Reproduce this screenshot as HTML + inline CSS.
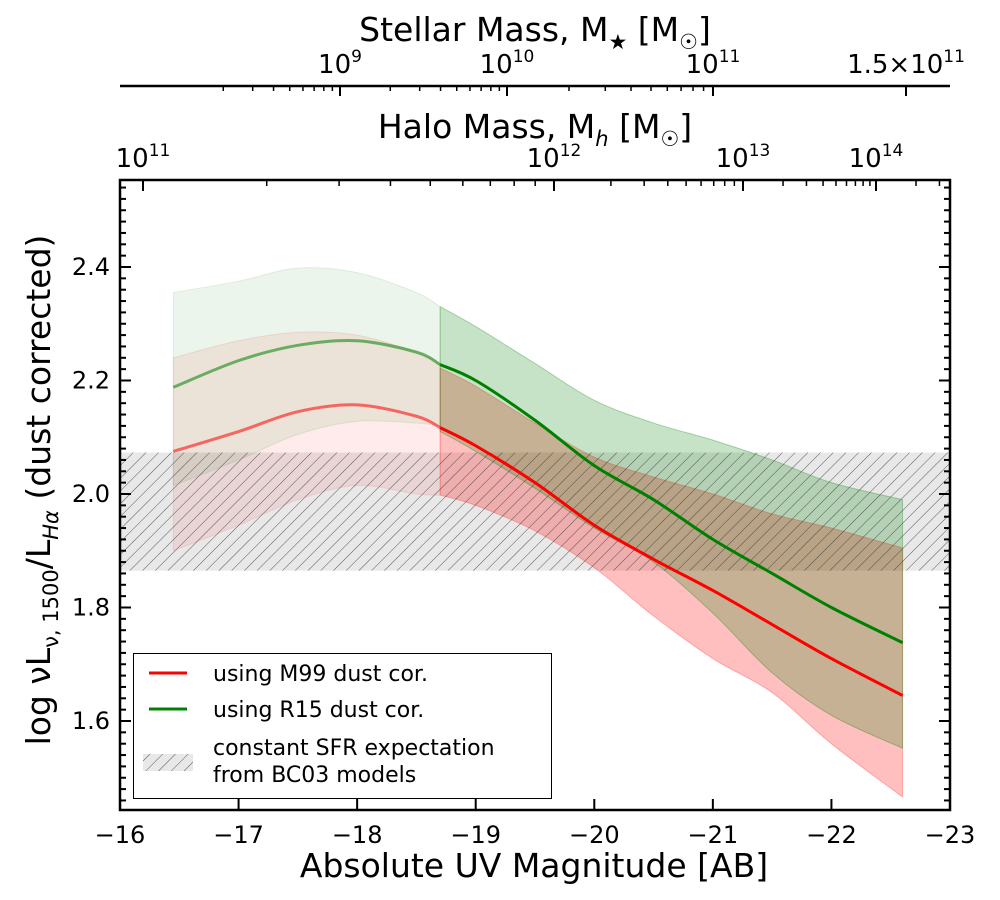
<!DOCTYPE html>
<html><head><meta charset="utf-8"><style>
body{margin:0;background:#fff}
svg{display:block;font-family:"DejaVu Sans","Liberation Sans",sans-serif}
</style></head><body>
<svg id="chart" width="1000" height="900" xmlns="http://www.w3.org/2000/svg">
<defs>
<pattern id="hatch" patternUnits="userSpaceOnUse" width="9" height="9" patternTransform="rotate(45)">
<line x1="0" y1="0" x2="0" y2="9" stroke="#333" stroke-width="1" stroke-opacity="0.8"/>
</pattern>
<clipPath id="clip"><rect x="120" y="180" width="830" height="630"/></clipPath>
</defs>
<g id="plot" clip-path="url(#clip)"></g>
<g id="axes"></g>
</svg>
<script>
// data
const magL = [-16.45,-17,-17.5,-18,-18.5,-18.7];
const magR = [-18.7,-19,-19.5,-20,-20.5,-21,-21.5,-22,-22.6];
const greenUpL = [2.355,2.375,2.398,2.39,2.355,2.33];
const greenLoL = [2.015,2.06,2.105,2.128,2.125,2.12];
const redUpL = [2.24,2.27,2.285,2.28,2.25,2.23];
const redLoL = [1.90,1.945,1.99,2.015,2.0,1.998];
const greenUpR = [2.33,2.295,2.23,2.165,2.125,2.095,2.06,2.02,1.99];
const greenLoR = [2.11,2.075,2.01,1.94,1.88,1.79,1.685,1.61,1.552];
const redUpR = [2.222,2.19,2.125,2.065,2.03,2.0,1.965,1.94,1.905];
const redLoR = [1.998,1.98,1.935,1.87,1.785,1.71,1.65,1.56,1.466];
const magLine = [-16.45,-17,-17.5,-18,-18.5,-18.7,-19,-19.5,-20,-20.5,-21,-21.5,-22,-22.6];
const greenLine = [2.188,2.235,2.262,2.27,2.25,2.228,2.2,2.13,2.05,1.99,1.92,1.86,1.80,1.738];
const redLine = [2.075,2.11,2.145,2.157,2.137,2.117,2.085,2.02,1.945,1.885,1.83,1.77,1.71,1.645];
const bc03 = [1.865,2.073];
const xTicks = [-16,-17,-18,-19,-20,-21,-22,-23];
const yTicks = [1.6,1.8,2.0,2.2,2.4];
const haloLabels = ["11","12","13","14"];
const stellarLabels = ["10","10","10","1.5×10"];

const X = m => 120 + (-16 - m) * (830/7);
const Y = v => 494 - (v - 2.0) * 567.5;
const NS = "http://www.w3.org/2000/svg";
const plot = document.getElementById('plot');
const axes = document.getElementById('axes');
function mk(tag, attrs, parent){const e=document.createElementNS(NS,tag);for(const k in attrs)e.setAttribute(k,attrs[k]);parent.appendChild(e);return e;}
function smooth(xs,ys){
  const p=xs.map((x,i)=>[X(x),Y(ys[i])]);let d=`M${p[0][0]},${p[0][1]}`;
  for(let i=0;i<p.length-1;i++){const p0=p[i-1]||p[i],p1=p[i],p2=p[i+1],p3=p[i+2]||p2;
    d+=` C${p1[0]+(p2[0]-p0[0])/6},${p1[1]+(p2[1]-p0[1])/6} ${p2[0]-(p3[0]-p1[0])/6},${p2[1]-(p3[1]-p1[1])/6} ${p2[0]},${p2[1]}`;}
  return d;}
function band(xs,up,lo){const d1=smooth(xs,up);const d2=smooth(xs.slice().reverse(),lo.slice().reverse());return d1+" L"+d2.slice(1)+" Z";}

let e;
e=mk('rect',{x:120,y:Y(bc03[1]),width:830,height:Y(bc03[0])-Y(bc03[1]),fill:'#e8e8e8'},plot);

e=mk('path',{d:band(magL,redUpL,redLoL),fill:'red','fill-opacity':0.08,stroke:'red','stroke-opacity':0.1},plot);

e=mk('path',{d:band(magL,greenUpL,greenLoL),fill:'green','fill-opacity':0.08,stroke:'green','stroke-opacity':0.1},plot);

e=mk('path',{d:band(magR,redUpR,redLoR),fill:'red','fill-opacity':0.25,stroke:'red','stroke-opacity':0.25},plot);

e=mk('path',{d:band(magR,greenUpR,greenLoR),fill:'green','fill-opacity':0.22,stroke:'green','stroke-opacity':0.3},plot);

e=mk('rect',{x:120,y:Y(bc03[1]),width:830,height:Y(bc03[0])-Y(bc03[1]),fill:'url(#hatch)'},plot);

const iSplit = magLine.indexOf(-18.7);
e=mk('path',{d:smooth(magLine.slice(0,iSplit+1),greenLine.slice(0,iSplit+1)),fill:'none',stroke:'green','stroke-opacity':0.55,'stroke-width':3},plot);

e=mk('path',{d:smooth(magLine.slice(iSplit),greenLine.slice(iSplit)),fill:'none',stroke:'green','stroke-width':3},plot);

e=mk('path',{d:smooth(magLine.slice(0,iSplit+1),redLine.slice(0,iSplit+1)),fill:'none',stroke:'red','stroke-opacity':0.55,'stroke-width':3},plot);

e=mk('path',{d:smooth(magLine.slice(iSplit),redLine.slice(iSplit)),fill:'none',stroke:'red','stroke-width':3},plot);


// frame
e=mk('rect',{x:120,y:180,width:830,height:630,fill:'none',stroke:'#000','stroke-width':2.5},axes);

xTicks.forEach(t=>{const x=X(t);
  mk('line',{x1:x,x2:x,y1:810,y2:799,stroke:'#000','stroke-width':2},axes);
  e=mk('text',{x:x,y:843,'text-anchor':'middle','font-size':24},axes);e.textContent=(t<0?'−':'')+Math.abs(t);
  });
for(let v=1.46;v<2.56;v+=0.02){const y=Y(v);const maj=Math.abs(Math.round(v*5)/5-v)<0.001;
  mk('line',{x1:120,x2:maj?131:126,y1:y,y2:y,stroke:'#000','stroke-width':2},axes);
  mk('line',{x1:950,x2:maj?939:944,y1:y,y2:y,stroke:'#000','stroke-width':2},axes);}
yTicks.forEach(t=>{e=mk('text',{x:110,y:Y(t)+8,'text-anchor':'end','font-size':24},axes);e.textContent=t.toFixed(1);
  });
e=mk('text',{x:534,y:877,'text-anchor':'middle','font-size':33},axes);e.textContent='Absolute UV Magnitude [AB]';

e=mk('text',{transform:'translate(50,490) rotate(-90)','text-anchor':'middle','font-size':33},axes);
e.innerHTML='log νL<tspan font-size="21" dy="8">ν, 1500</tspan><tspan dy="-8">/L</tspan><tspan font-size="21" dy="8" font-style="italic">Hα</tspan><tspan dy="-8"> (dust corrected)</tspan>';


// top halo axis
const haloMaj=[143,554,743,876];
haloMaj.forEach((x,i)=>{mk('line',{x1:x,x2:x,y1:180,y2:191,stroke:'#000','stroke-width':2},axes);
  e=mk('text',{x:x,y:167,'text-anchor':'middle','font-size':26},axes);
  e.innerHTML='10<tspan font-size="17" dy="-11">'+haloLabels[i]+'</tspan>';
  });
for(let i=0;i<3;i++){for(let k=2;k<10;k++){const x=haloMaj[i]+(haloMaj[i+1]-haloMaj[i])*Math.log10(k);
  mk('line',{x1:x,x2:x,y1:180,y2:186,stroke:'#000','stroke-width':1.5},axes);}}
for(let k=2;k<5;k++){const x=876+133*Math.log10(k);if(x<948)mk('line',{x1:x,x2:x,y1:180,y2:186,stroke:'#000','stroke-width':1.5},axes);}
e=mk('text',{x:535,y:138,'text-anchor':'middle','font-size':33},axes);
e.innerHTML='Halo Mass, M<tspan font-size="21" dy="8" font-style="italic">h</tspan><tspan dy="-8"> [M</tspan><tspan font-size="21" dy="8">☉</tspan><tspan dy="-8">]</tspan>';


// stellar axis
e=mk('line',{x1:120,x2:950,y1:86,y2:86,stroke:'#000','stroke-width':2.5},axes);

const stMaj=[340,507,713,906];const stExp=["9","10","11","11"];
stMaj.forEach((x,i)=>{mk('line',{x1:x,x2:x,y1:86,y2:96,stroke:'#000','stroke-width':2},axes);
  e=mk('text',{x:x,y:73,'text-anchor':'middle','font-size':26},axes);
  e.innerHTML=stellarLabels[i]+'<tspan font-size="17" dy="-11">'+stExp[i]+'</tspan>';
  });
for(let k=2;k<10;k++){const x=340+167*Math.log10(k);mk('line',{x1:x,x2:x,y1:86,y2:91,stroke:'#000','stroke-width':1.5},axes);
  const x2=507+206*Math.log10(k);mk('line',{x1:x2,x2:x2,y1:86,y2:91,stroke:'#000','stroke-width':1.5},axes);
  const x0=340-167*(1-Math.log10(k));if(x0>121)mk('line',{x1:x0,x2:x0,y1:86,y2:91,stroke:'#000','stroke-width':1.5},axes);}
e=mk('text',{x:535,y:41,'text-anchor':'middle','font-size':33},axes);
e.innerHTML='Stellar Mass, M<tspan font-size="21" dy="8">★</tspan><tspan dy="-8"> [M</tspan><tspan font-size="21" dy="8">☉</tspan><tspan dy="-8">]</tspan>';


// legend
const lg=mk('g',{},axes);
mk('rect',{x:133.5,y:653.5,width:418,height:145,fill:'#fff',stroke:'#000','stroke-width':1},lg);
mk('line',{x1:149,x2:187,y1:673,y2:673,stroke:'red','stroke-width':3},lg);
mk('line',{x1:149,x2:187,y1:709,y2:709,stroke:'green','stroke-width':3},lg);
mk('rect',{x:143,y:754,width:50,height:17,fill:'#e8e8e8'},lg);
mk('rect',{x:143,y:754,width:50,height:17,fill:'url(#hatch)'},lg);
[['using M99 dust cor.',681],['using R15 dust cor.',717],['constant SFR expectation',755],[' from BC03 models',782]].forEach(([t,y])=>{
  e=mk('text',{x:213,y:y,'font-size':22,'xml:space':'preserve'},lg);e.textContent=t;
  });
</script>
</body></html>
